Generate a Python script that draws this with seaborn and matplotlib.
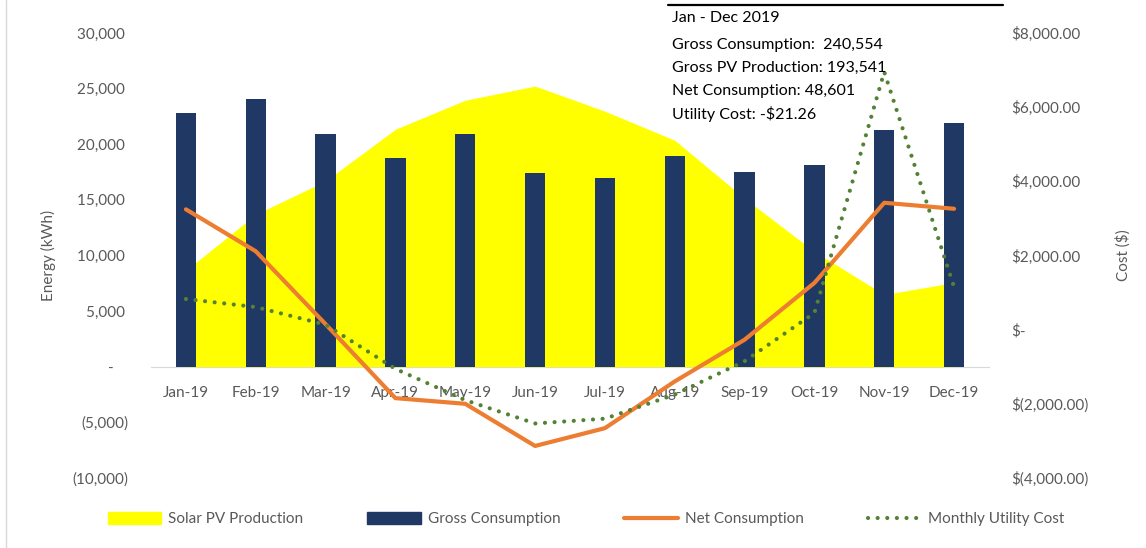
import numpy as np
import matplotlib
matplotlib.use("Agg")
import matplotlib.pyplot as plt
from matplotlib.patches import Patch
from matplotlib.lines import Line2D
import seaborn as sns

# monthly data, 2019
months = ['Jan-19', 'Feb-19', 'Mar-19', 'Apr-19', 'May-19', 'Jun-19',
          'Jul-19', 'Aug-19', 'Sep-19', 'Oct-19', 'Nov-19', 'Dec-19']
gross = [22800, 24080, 20960, 18800, 20960, 17390, 16960, 18950, 17500, 18100, 21260, 21950]
solar = [8650, 13700, 16700, 21350, 23960, 25230, 22970, 20360, 15140, 10360, 6490, 7570]
net = [14150, 10380, 3830, -2820, -3330, -7120, -5520, -1320, 2430, 7540, 14740, 14200]
cost = [826, 610, 135, -1057, -1900, -2530, -2400, -1750, -850, 450, 6950, 1150]

summary = ['Jan - Dec 2019',
           'Gross Consumption:  240,554',
           'Gross PV Production: 193,541',
           'Net Consumption: 48,601',
           'Utility Cost: -$21.26']

sns.set_style("white")
plt.rcParams['font.family'] = ['Lato', 'DejaVu Sans']

yellow = '#FFFF00'
navy = '#203864'
orange = '#ED7D31'
green = '#548235'
grey = '#595959'

fig = plt.figure(figsize=(11.46, 5.48), dpi=100)
ax = fig.add_axes([151 / 1146, 1 - 478 / 548, (989 - 151) / 1146, (478 - 33) / 548])
x = np.arange(len(months))

ax.fill_between(x, 0, solar, color=yellow, lw=0, zorder=1)
sns.barplot(x=months, y=gross, color=navy, width=0.29, saturation=1, ax=ax, zorder=2,
            linewidth=0, edgecolor=navy)
sns.lineplot(x=x, y=net, color=orange, lw=3, ax=ax, zorder=3)

ax2 = ax.twinx()
sns.lineplot(x=x, y=cost, color=green, lw=3, ax=ax2,
             linestyle=(0, (0.01, 2.3)), dash_capstyle='round')

ax.set_xlim(-0.5, 11.5)
ax.set_ylim(-10000, 30000)
ax2.set_ylim(-4000, 8000)

# left axis
lt = np.arange(-10000, 30001, 5000)
ax.set_yticks(lt)
ax.set_yticklabels(['(10,000)', '(5,000)', '-    '] + [f'{v:,} ' for v in lt[3:]])
ax.tick_params(axis='y', length=0, pad=16, labelsize=11, labelcolor=grey)
ax.set_ylabel('Energy (kWh)', fontsize=11, color=grey, labelpad=12)

# right axis
rt = np.arange(-4000, 8001, 2000)
rl = []
for v in rt:
    if v < 0:
        rl.append(f'$({-v:,.2f})')
    elif v == 0:
        rl.append('$-')
    else:
        rl.append(f'${v:,.2f}')
ax2.set_yticks(rt)
ax2.set_yticklabels(rl)
ax2.tick_params(axis='y', length=0, pad=16, labelsize=11, labelcolor=grey)
ax2.set_ylabel('Cost ($)', fontsize=11, color=grey, labelpad=19)

# category axis at zero
ax.spines['bottom'].set_position(('data', 0))
ax.spines['bottom'].set_color('#D9D9D9')
ax.spines['bottom'].set_zorder(0.5)
for s in ['top', 'left', 'right']:
    ax.spines[s].set_visible(False)
for s in ax2.spines.values():
    s.set_visible(False)
ax.set_xticks(x)
ax.set_xticklabels(months)
ax.set_xticks(np.arange(-0.5, 12, 1), minor=True)
ax.tick_params(axis='x', which='major', length=0, pad=14, labelsize=11, labelcolor=grey)
ax.tick_params(axis='x', which='minor', length=6, width=1, color='#D9D9D9', direction='out')
ax.set_xlabel('')
ax.grid(False)
ax2.grid(False)

# summary box
ys = [18, 45, 68, 91, 114]
for t, yy in zip(summary, ys):
    fig.text(672 / 1146, 1 - yy / 548, t, fontsize=11.5, color='black', va='center', ha='left')
fig.add_artist(Line2D([668 / 1146, 1003 / 1146], [1 - 5 / 548, 1 - 5 / 548],
                      color='black', lw=1.6, transform=fig.transFigure))
fig.add_artist(Line2D([6 / 1146, 6 / 1146], [0, 1], color='#D9D9D9', lw=1,
                      transform=fig.transFigure))

handles = [Patch(color=yellow, label='Solar PV Production'),
           Patch(color=navy, label='Gross Consumption'),
           Line2D([], [], color=orange, lw=3, label='Net Consumption'),
           Line2D([], [], color=green, lw=3, linestyle=(0, (0.01, 2.3)),
                  dash_capstyle='round', label='Monthly Utility Cost')]
leg = fig.legend(handles=handles, loc='center', bbox_to_anchor=(586 / 1146, 1 - 519 / 548),
                 ncol=4, frameon=False, fontsize=11, handlelength=3.5, handleheight=0.8,
                 handletextpad=0.45, columnspacing=4.2)
for t in leg.get_texts():
    t.set_color(grey)

fig.savefig('out.png', dpi=100)
